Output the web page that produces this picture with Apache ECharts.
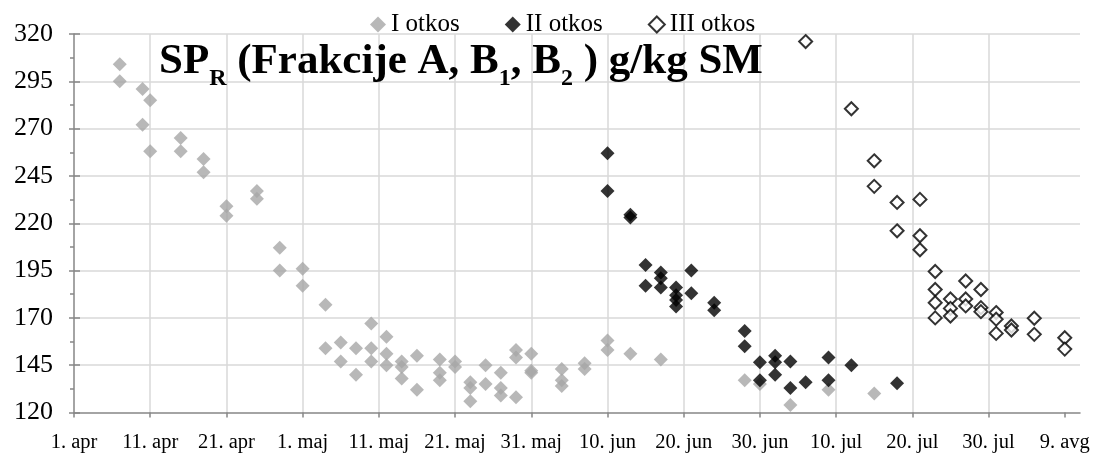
<!DOCTYPE html>
<html>
<head>
<meta charset="utf-8">
<script src="https://cdn.jsdelivr.net/npm/echarts@6/dist/echarts.min.js"></script>
<style>html,body{margin:0;padding:0;background:#fff}#c{width:1096px;height:461px}</style>
</head>
<body>
<div id="c"></div>
<script>
// ---- data ----
const xTickLabels = ['1. apr','11. apr','21. apr','1. maj','11. maj','21. maj','31. maj','10. jun','20. jun','30. jun','10. jul','20. jul','30. jul','9. avg'];
const yTicks = [120,145,170,195,220,245,270,295,320];
const seriesNames = ['I otkos','II otkos','III otkos'];

const otkos1Dates = ['04-07','04-07','04-10','04-10','04-11','04-11','04-15','04-15','04-18','04-18','04-21','04-21','04-25','04-25','04-28','04-28','05-01','05-01','05-04','05-04','05-06','05-06','05-08','05-08','05-10','05-10','05-10','05-12','05-12','05-12','05-14','05-14','05-14','05-16','05-16','05-19','05-19','05-19','05-21','05-21','05-23','05-23','05-23','05-25','05-25','05-27','05-27','05-27','05-29','05-29','05-29','05-31','05-31','05-31','06-04','06-04','06-04','06-07','06-07','06-10','06-10','06-13','06-17','06-28','06-30','07-04','07-09','07-15'];
const otkos1Values = [304,295,291,272,285,258,265,258,254,247,229,224,237,233,207,195,196,187,177,154,157,147,154,140,167,154,147,160,151,145,147,144,138,150,132,148,141,137,147,144,136,133,126,145,135,141,133,129,153,149,128,151,142,141,143,137,134,146,143,158,153,151,148,137,135,124,132,130];

const otkos2Dates = ['06-10','06-10','06-13','06-13','06-15','06-15','06-17','06-17','06-17','06-19','06-19','06-19','06-19','06-21','06-21','06-24','06-24','06-28','06-28','06-30','06-30','07-02','07-02','07-02','07-04','07-04','07-06','07-09','07-09','07-12','07-18'];
const otkos2Values = [257,237,224.5,223,198,187,194,191,186,186,182,179.5,176,195,183,178,174,163,155,146.5,137,150,146.5,140,147,133,136,149,137,145,135.5];

const otkos3Dates = ['07-06','07-12','07-15','07-15','07-18','07-18','07-21','07-21','07-21','07-23','07-23','07-23','07-23','07-25','07-25','07-25','07-27','07-27','07-27','07-29','07-29','07-29','07-31','07-31','07-31','08-02','08-02','08-05','08-05','08-09','08-09'];
const otkos3Values = [316,280.5,253,239.5,231,216,232.6,213.4,206,194.5,185,178,170,180,175,171,189.5,180,176.3,185,175.4,173.3,172.8,169.3,161.8,165.7,163.6,169.8,161.3,159.5,153.5];

// ---- helpers ----
const YEAR = 2013;
const ORIGIN = Date.UTC(YEAR, 3, 1);
function dayIndex(s) {
  const [m, d] = s.split('-').map(Number);
  return (Date.UTC(YEAR, m - 1, d) - ORIGIN) / 86400000;
}
function pairs(dates, vals) { return dates.map((d, i) => [dayIndex(d), vals[i]]); }

const FONT = '"Liberation Serif","Times New Roman",serif';
const chart = echarts.init(document.getElementById('c'), null, {renderer: 'canvas'});

const tickVals = xTickLabels.map((_, i) => i * 10);

chart.setOption({
  animation: false,
  backgroundColor: '#fff',
  title: {
    left: 154, top: 24,
    text: '{b|SP}{s|R}{b| (Frakcije A, B}{s|1}{b|, B}{s|2}{b| ) g/kg SM}',
    textStyle: {
      rich: {
        b: {fontFamily: FONT, fontSize: 43, fontWeight: 'bold', color: '#000', lineHeight: 66},
        s: {fontFamily: FONT, fontSize: 24, fontWeight: 'bold', color: '#000', padding: [34, 0, 0, 0]}
      }
    }
  },
  legend: {
    left: 365, top: 7,
    itemWidth: 16, itemHeight: 16, itemGap: 45,
    textStyle: {fontFamily: FONT, fontSize: 25, color: '#000'},
    data: seriesNames
  },
  grid: {left: 74, right: 16, top: 34, bottom: 48.5, containLabel: false},
  xAxis: {
    type: 'value', min: 0, max: 132, interval: 10,
    axisLine: {show: true, lineStyle: {color: '#868686', width: 1.5}},
    axisTick: {show: true, length: 5, lineStyle: {color: '#868686', width: 1.5}, customValues: tickVals},
    axisLabel: {
      fontFamily: FONT, fontSize: 20.5, color: '#000', margin: 20,
      customValues: tickVals,
      formatter: v => (v % 10 === 0 && xTickLabels[v / 10]) ? xTickLabels[v / 10] : ''
    },
    splitLine: {show: true, showMaxLine: false, showMinLine: false, lineStyle: {color: '#d9d9d9', width: 1.5}}
  },
  yAxis: [{
    type: 'value', min: yTicks[0], max: yTicks[yTicks.length - 1], interval: 25,
    axisLine: {show: true, lineStyle: {color: '#868686', width: 1.5}},
    axisTick: {show: true, length: 5, lineStyle: {color: '#868686', width: 1.5}},
    minorTick: {show: true, splitNumber: 2, length: 4, lineStyle: {color: '#868686', width: 1.5}},
    axisLabel: {fontFamily: FONT, fontSize: 26, color: '#000', margin: 21},
    splitLine: {show: true, showMinLine: false, lineStyle: {color: '#d9d9d9', width: 1.5}}
  }, {
    type: 'value', position: 'left', min: yTicks[0], max: yTicks[yTicks.length - 1], interval: 25,
    axisLine: {show: false},
    axisTick: {show: true, inside: true, length: 6, lineStyle: {color: '#868686', width: 1.5}},
    axisLabel: {show: false}, splitLine: {show: false}
  }],
  series: [{
    name: seriesNames[0], type: 'scatter', symbol: 'diamond', symbolSize: 14,
    itemStyle: {color: '#a6a6a6'},
    data: pairs(otkos1Dates, otkos1Values)
  }, {
    name: seriesNames[1], type: 'scatter', symbol: 'diamond', symbolSize: 14,
    itemStyle: {color: '#000'},
    data: pairs(otkos2Dates, otkos2Values)
  }, {
    name: seriesNames[2], type: 'scatter', symbol: 'diamond', symbolSize: 13,
    itemStyle: {color: '#fff', borderColor: '#000', borderWidth: 2},
    data: pairs(otkos3Dates, otkos3Values)
  }]
});
</script>
</body>
</html>
